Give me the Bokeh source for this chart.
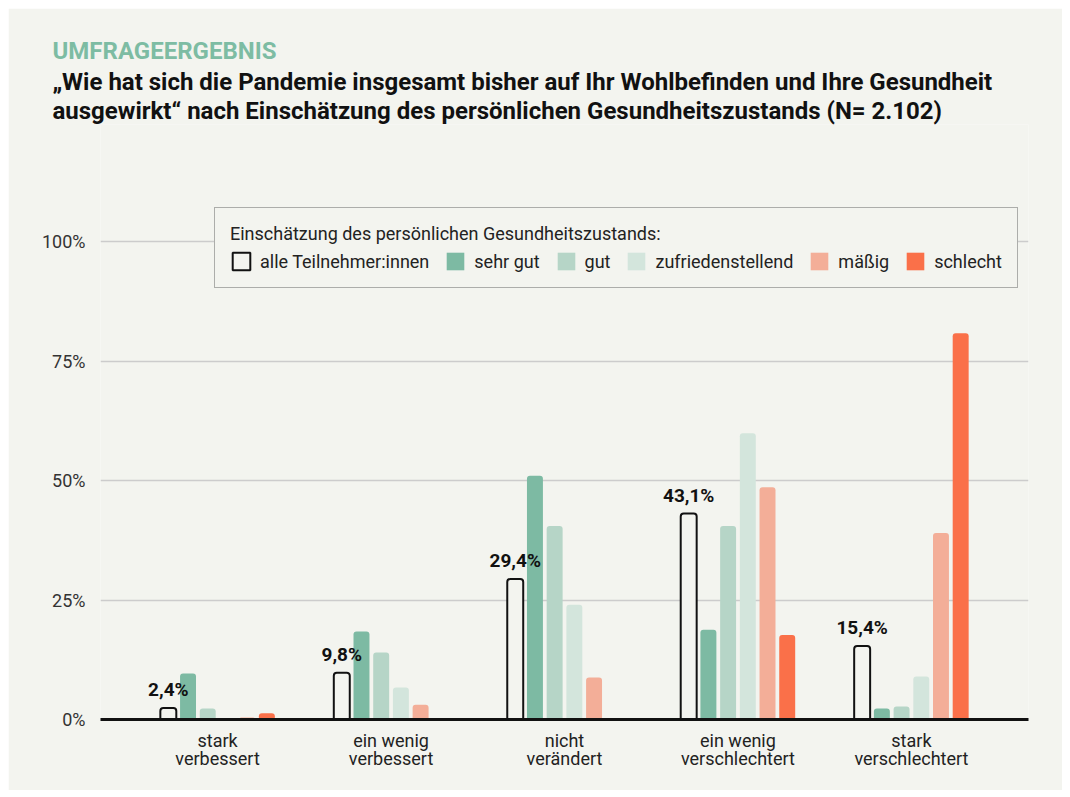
from bokeh.plotting import figure
from bokeh.models import (Range1d, FixedTicker, Legend, LegendItem, Title,
                          ColumnDataSource)
from bokeh.transform import dodge
from bokeh.core.properties import value
from bokeh.embed import file_html
from bokeh.resources import INLINE

# ---------------- data ----------------
categories = ["stark\nverbessert", "ein wenig\nverbessert", "nicht\nverändert",
              "ein wenig\nverschlechtert", "stark\nverschlechtert"]
series_names = ["alle Teilnehmer:innen", "sehr gut", "gut",
                "zufriedenstellend", "mäßig", "schlecht"]
alle = [2.4, 9.8, 29.4, 43.1, 15.4]
sehr_gut = [9.6, 18.4, 51.0, 18.8, 2.3]
gut = [2.3, 14.0, 40.5, 40.5, 2.7]
zufriedenstellend = [0.0, 6.7, 24.0, 59.9, 9.0]
maessig = [0.4, 3.1, 8.8, 48.6, 39.0]
schlecht = [1.3, 0.0, 0.0, 17.7, 80.8]
y_ticks = [0, 25, 50, 75, 100]
y_tick_labels = ["0%", "25%", "50%", "75%", "100%"]

BG = "#f3f4ef"
FONT = "Roboto"
colors = ["#f3f4ef", "#7dbaa3", "#b6d5c7", "#d3e5dc", "#f3ae98", "#fa7049"]

xs = list(range(len(categories)))
src = ColumnDataSource(dict(
    x=xs, alle=alle, sehr_gut=sehr_gut, gut=gut,
    zufr=zufriedenstellend, maessig=maessig, schlecht=schlecht,
    label=[("%.1f" % v).replace(".", ",") + "%" for v in alle],
))
cols = ["alle", "sehr_gut", "gut", "zufr", "maessig", "schlecht"]

p = figure(width=1054, height=782, output_backend="svg", toolbar_location=None,
           x_range=Range1d(-0.675, 4.675), y_range=Range1d(0, 124.5),
           title=None, min_border_left=92, min_border_right=34,
           min_border_top=116, min_border_bottom=71, margin=(8, 8, 8, 8))
p.background_fill_color = BG
p.border_fill_color = BG
p.outline_line_color = None

step = 0.1136
bw = 0.092
renderers = []
for i, c in enumerate(cols):
    off = (i - 2.5) * step
    if c == "alle":
        r = p.vbar(x=dodge("x", off, range=p.x_range), top=c, width=bw, source=src,
                   fill_color=BG, line_color="#111111", line_width=2,
                   border_radius=(3, 3, 0, 0))
    else:
        r = p.vbar(x=dodge("x", off, range=p.x_range), top=c, width=bw, source=src,
                   fill_color=colors[i], line_color=None,
                   border_radius=(3, 3, 0, 0))
    renderers.append(r)

p.text(x=dodge("x", -2.5 * step, range=p.x_range), y="alle", text="label",
       source=src, text_font=value(FONT), text_font_size="19px",
       text_font_style="bold", text_color="#111111", text_align="center",
       text_baseline="bottom", y_offset=-7)

# axes
p.xaxis.ticker = FixedTicker(ticks=xs)
p.xaxis.major_label_overrides = {i: c for i, c in enumerate(categories)}
p.xaxis.axis_line_color = "#111111"
p.xaxis.axis_line_width = 3
p.xaxis.major_tick_line_color = None
p.xaxis.minor_tick_line_color = None
p.xaxis.major_label_text_font = FONT
p.xaxis.major_label_text_font_size = "18px"
p.xaxis.major_label_text_color = "#222222"
p.xaxis.major_label_text_line_height = 0.9
p.xaxis.major_label_standoff = 4

p.yaxis.ticker = FixedTicker(ticks=y_ticks)
p.yaxis.major_label_overrides = {t: l for t, l in zip(y_ticks, y_tick_labels)}
p.yaxis.axis_line_color = None
p.yaxis.major_tick_line_color = None
p.yaxis.minor_tick_line_color = None
p.yaxis.major_label_text_font = FONT
p.yaxis.major_label_text_font_size = "18px"
p.yaxis.major_label_text_color = "#333333"
p.yaxis.major_label_standoff = 9

p.xgrid.grid_line_color = None
p.ygrid.ticker = FixedTicker(ticks=y_ticks)
p.ygrid.grid_line_color = "#cccccc"
p.ygrid.grid_line_width = 1.5

# legend
legend = Legend(
    items=[LegendItem(label=n, renderers=[r]) for n, r in zip(series_names, renderers)],
    orientation="horizontal", location=(114, 431),
    title="Einschätzung des persönlichen Gesundheitszustands:",
    title_text_font=FONT, title_text_font_size="18px", title_text_font_style="normal",
    title_text_color="#222222", title_standoff=6,
    label_text_font=FONT, label_text_font_size="18px", label_text_color="#222222",
    border_line_color="#666666", border_line_width=1.5,
    background_fill_color=BG, background_fill_alpha=1.0,
    padding=15, spacing=15, label_standoff=8, glyph_width=22, glyph_height=22,
    label_height=22, margin=0,
)
p.add_layout(legend)

# titles (first added = closest to the plot frame)
t2 = Title(text="ausgewirkt“ nach Einschätzung des persönlichen Gesundheitszustands (N= 2.102)",
           text_font=FONT, text_font_size="24px", text_font_style="bold",
           text_color="#111111", align="left", offset=-48, standoff=0)
t1 = Title(text="„Wie hat sich die Pandemie insgesamt bisher auf Ihr Wohlbefinden und Ihre Gesundheit",
           text_font=FONT, text_font_size="24px", text_font_style="bold",
           text_color="#111111", align="left", offset=-48, standoff=-2)
t0 = Title(text="UMFRAGEERGEBNIS", text_font=FONT, text_font_size="24px",
           text_font_style="bold", text_color="#7dbca3", align="left",
           offset=-48, standoff=4)
p.add_layout(t2, "above")
p.add_layout(t1, "above")
p.add_layout(t0, "above")

open("out.html", "w").write(file_html(p, INLINE))
